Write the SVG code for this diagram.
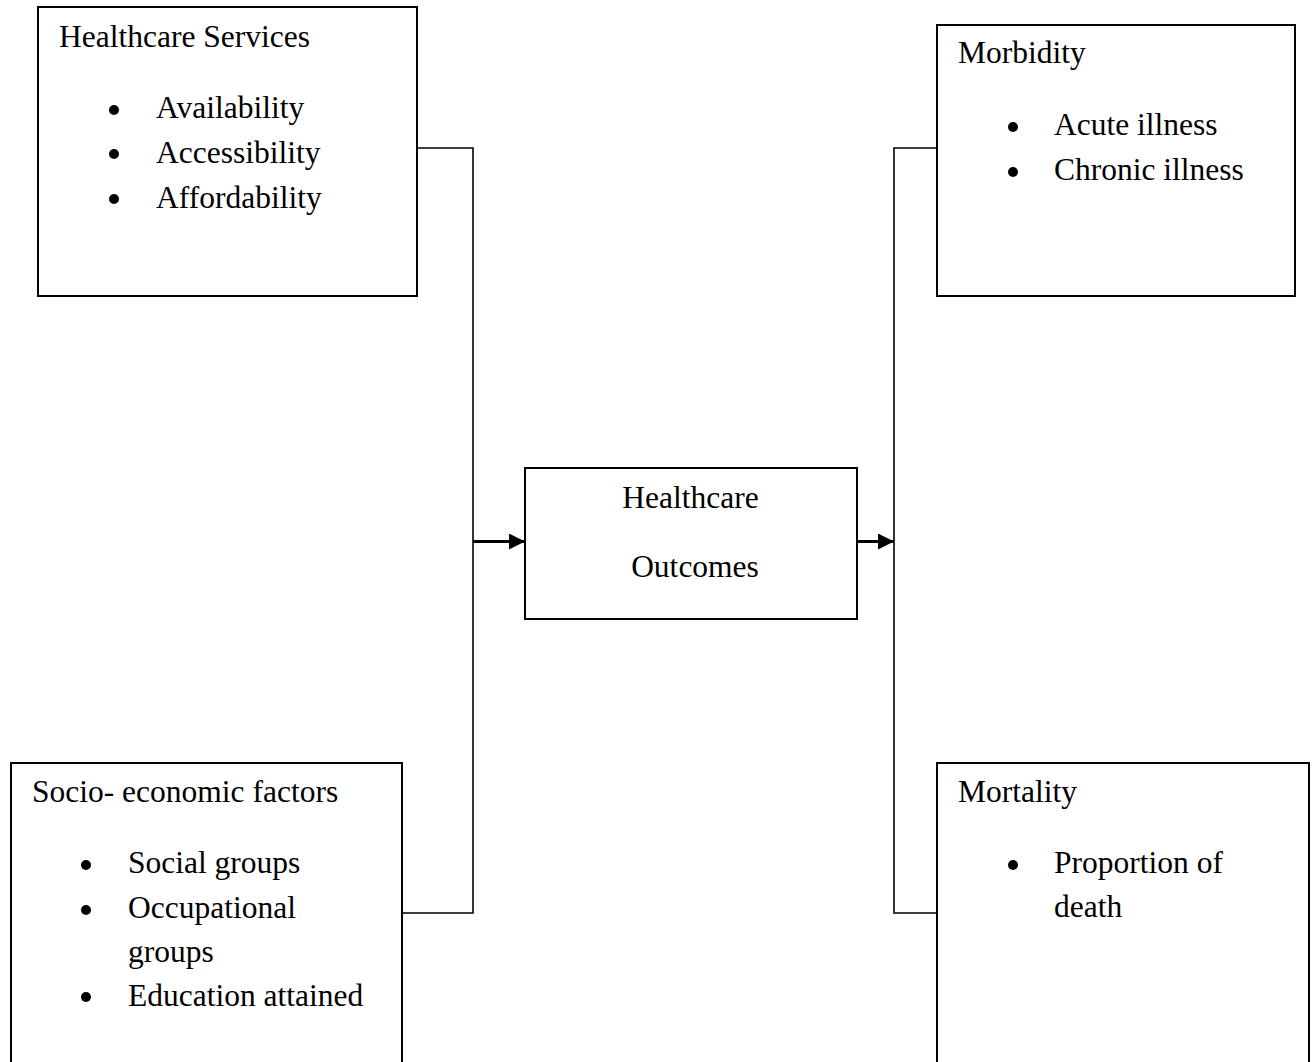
<svg xmlns="http://www.w3.org/2000/svg" width="1312" height="1062" viewBox="0 0 1312 1062">
<defs>
<style>
.box{fill:#fff;stroke:#000;stroke-width:2}
.ln{fill:none;stroke:#000;stroke-width:1.6}
.ar{fill:none;stroke:#000;stroke-width:3}
text{font-family:"Liberation Serif","Times New Roman",serif;font-size:31.5px;fill:#000}
.b{fill:#000}
</style>
<marker id="ah" viewBox="0 0 16 16" refX="16" refY="8" markerWidth="16" markerHeight="16" markerUnits="userSpaceOnUse" orient="auto">
<path d="M0,0 L16,8 L0,16 Z" fill="#000"/>
</marker>
</defs>
<rect width="1312" height="1062" fill="#fff"/>
<g id="connectors">
<polyline class="ln" points="417,148 473,148 473,913 402,913"/>
<line class="ar" x1="473" y1="541.5" x2="525" y2="541.5" marker-end="url(#ah)"/>
<line class="ar" x1="857" y1="541.5" x2="894" y2="541.5" marker-end="url(#ah)"/>
<polyline class="ln" points="937,148 894,148 894,913 937,913"/>
</g>
<g id="healthcare-services">
<rect class="box" x="38" y="7" width="379" height="289"/>
<text x="59" y="47">Healthcare Services</text>
<circle class="b" cx="114" cy="110" r="5"/><text x="156" y="118">Availability</text>
<circle class="b" cx="114" cy="154" r="5"/><text x="156" y="163">Accessibility</text>
<circle class="b" cx="114" cy="199" r="5"/><text x="156" y="208">Affordability</text>
</g>
<g id="socio-economic">
<rect class="box" x="11" y="763" width="391" height="310"/>
<text x="32" y="802">Socio- economic factors</text>
<circle class="b" cx="86" cy="865" r="5"/><text x="128" y="873">Social groups</text>
<circle class="b" cx="86" cy="910" r="5"/><text x="128" y="918">Occupational</text>
<text x="128" y="962">groups</text>
<circle class="b" cx="86" cy="997" r="5"/><text x="128" y="1006">Education attained</text>
</g>
<g id="healthcare-outcomes">
<rect class="box" x="525" y="468" width="332" height="151"/>
<text x="690.5" y="508" text-anchor="middle">Healthcare</text>
<text x="695" y="577" text-anchor="middle">Outcomes</text>
</g>
<g id="morbidity">
<rect class="box" x="937" y="25" width="358" height="271"/>
<text x="958" y="63">Morbidity</text>
<circle class="b" cx="1013" cy="127" r="5"/><text x="1054" y="135">Acute illness</text>
<circle class="b" cx="1013" cy="172" r="5"/><text x="1054" y="180">Chronic illness</text>
</g>
<g id="mortality">
<rect class="box" x="937" y="763" width="372" height="310"/>
<text x="958" y="802">Mortality</text>
<circle class="b" cx="1013" cy="865" r="5"/><text x="1054" y="873">Proportion of</text>
<text x="1054" y="917">death</text>
</g>
</svg>
